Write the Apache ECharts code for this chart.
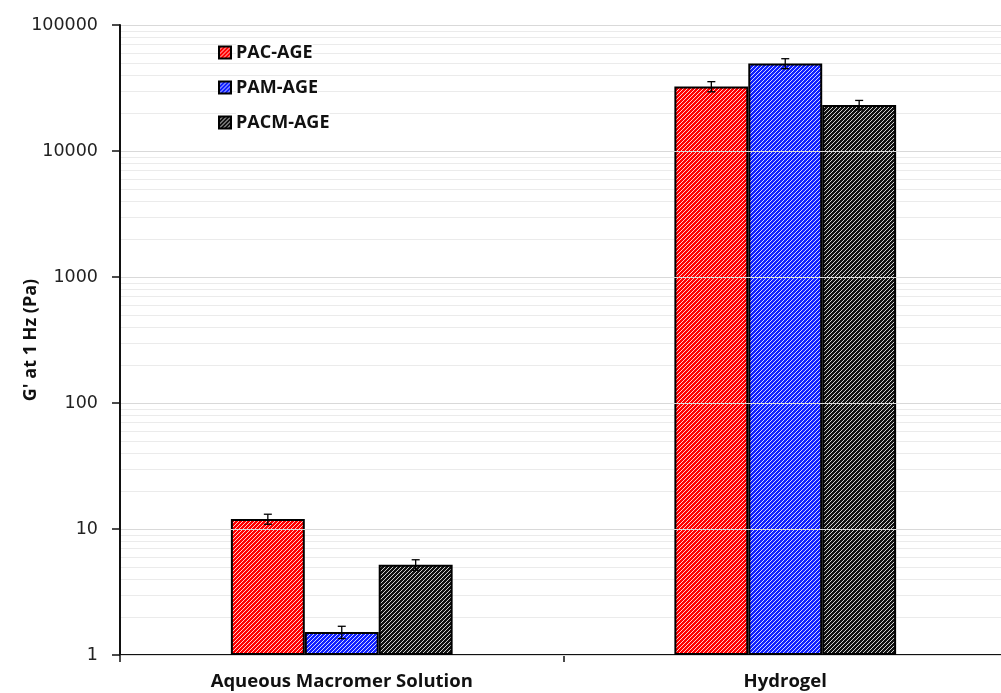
<!DOCTYPE html>
<html>
<head>
<meta charset="utf-8">
<script src="https://cdn.jsdelivr.net/npm/echarts@6/dist/echarts.min.js"></script>
<style>
  html, body { margin: 0; padding: 0; background: #fff; }
  #chart { width: 1001px; height: 693px; }
</style>
</head>
<body>
<div id="chart"></div>
<script>
// Storage modulus at 1 Hz for each macromer, before and after crosslinking
const categories = ['Aqueous Macromer Solution', 'Hydrogel'];
const seriesNames = ['PAC-AGE', 'PAM-AGE', 'PACM-AGE'];
const pacAge  = [12, 32500];
const pamAge  = [1.52, 49500];
const pacmAge = [5.2, 23200];
const pacAgeErr  = [1.1, 3000];
const pamAgeErr  = [0.17, 4500];
const pacmAgeErr = [0.5, 2000];
const majorTicks = [1, 10, 100, 1000, 10000, 100000];

const values = [pacAge, pamAge, pacmAge];
const errors = [pacAgeErr, pamAgeErr, pacmAgeErr];
const baseColors = ['#ff0000', '#1020ff', '#111111'];

// minor ticks at 2..9 within each decade
const minorTicks = [];
for (let d = 1; d < 100000; d *= 10) {
  for (let m = 2; m <= 9; m++) minorTicks.push(m * d);
}

// diagonal hatch fill: coloured ground with thin white stripes
function hatch(color) {
  const s = 4;
  const c = document.createElement('canvas');
  c.width = s; c.height = s;
  const g = c.getContext('2d');
  g.fillStyle = color;
  g.fillRect(0, 0, s, s);
  g.strokeStyle = 'rgba(255,255,255,0.9)';
  g.lineWidth = 0.9;
  g.beginPath();
  g.moveTo(-1, s + 1); g.lineTo(s + 1, -1);
  g.moveTo(-1, 1); g.lineTo(1, -1);
  g.moveTo(s - 1, s + 1); g.lineTo(s + 1, s - 1);
  g.stroke();
  return c;
}

const GAP = 0.5; // barCategoryGap fraction

const barSeries = seriesNames.map((name, i) => ({
  name: name,
  type: 'bar',
  data: values[i],
  barCategoryGap: '50%',
  barGap: '0%',
  itemStyle: {
    color: { image: hatch(baseColors[i]), repeat: 'repeat' },
    borderColor: '#000',
    borderWidth: 2
  },
  emphasis: { disabled: true },
  z: 3
}));

const errorSeries = seriesNames.map((name, i) => ({
  type: 'custom',
  name: name + ' error',
  z: 6,
  silent: true,
  data: values[i].map((v, k) => [k, v, errors[i][k]]),
  renderItem: function (params, api) {
    const k = api.value(0);
    const v = api.value(1);
    const e = api.value(2);
    const p0 = api.coord([0, 1]);
    const p1 = api.coord([1, 1]);
    const catW = Math.abs(p1[0] - p0[0]);
    const barW = catW * (1 - GAP) / 3;
    const cx = api.coord([k, v])[0] + (i - 1) * barW;
    const yHi = api.coord([k, v + e])[1];
    const yLo = api.coord([k, Math.max(v - e, 1e-6)])[1];
    const cap = 4;
    const style = { stroke: '#000', lineWidth: 1.3 };
    return {
      type: 'group',
      children: [
        { type: 'line', shape: { x1: cx, y1: yHi, x2: cx, y2: yLo }, style: style },
        { type: 'line', shape: { x1: cx - cap, y1: yHi, x2: cx + cap, y2: yHi }, style: style },
        { type: 'line', shape: { x1: cx - cap, y1: yLo, x2: cx + cap, y2: yLo }, style: style }
      ]
    };
  }
}));

const chart = echarts.init(document.getElementById('chart'), null, { renderer: 'canvas' });
chart.setOption({
  animation: false,
  backgroundColor: '#fff',
  grid: { left: 120, top: 25, width: 887, height: 630, containLabel: false, outerBoundsMode: 'none' },
  legend: {
    data: seriesNames,
    orient: 'vertical',
    left: 213,
    top: 37,
    padding: 5,
    z: 10,
    itemWidth: 12,
    itemHeight: 12,
    itemGap: 14,
    icon: 'rect',
    selectedMode: false,
    textStyle: {
      fontFamily: 'Open Sans', fontWeight: 'bold', fontSize: 18, color: '#111',
      backgroundColor: '#fff', lineHeight: 21
    }
  },
  xAxis: {
    type: 'category',
    data: categories,
    axisLine: { lineStyle: { color: '#111', width: 2 } },
    axisTick: { show: true, length: 7, lineStyle: { color: '#111', width: 1.5 } },
    axisLabel: { fontFamily: 'Open Sans', fontWeight: 'bold', fontSize: 18.5, color: '#111', margin: 17 }
  },
  yAxis: [
    {
      type: 'log',
      logBase: 10,
      min: 1,
      max: 100000,
      name: "G' at 1 Hz (Pa)",
      nameLocation: 'middle',
      nameGap: 80,
      nameMoveOverlap: false,
      nameTextStyle: { fontFamily: 'Open Sans', fontWeight: 'bold', fontSize: 18, color: '#111' },
      axisLine: { show: true, lineStyle: { color: '#111', width: 2 } },
      axisTick: { show: true, length: 8, lineStyle: { color: '#111', width: 1.5 } },
      axisLabel: {
        fontFamily: 'DejaVu Sans', fontSize: 17.5, color: '#222', margin: 22,
        customValues: majorTicks,
        formatter: v => String(Math.round(v))
      },
      splitLine: { show: true, lineStyle: { color: '#d9d9d9', width: 1 } },
      z: 4
    },
    {
      type: 'log',
      logBase: 10,
      min: 1,
      max: 100000,
      position: 'left',
      axisLine: { show: false },
      axisLabel: { show: false },
      axisTick: { show: true, inside: true, length: 5, customValues: minorTicks, lineStyle: { color: '#111', width: 1 } },
      splitLine: { show: false }
    }
  ],
  series: barSeries.concat(errorSeries).concat([{
    type: 'line',
    yAxisIndex: 1,
    data: [],
    silent: true,
    z: 1,
    markLine: {
      silent: true,
      z: 1,
      symbol: 'none',
      label: { show: false },
      lineStyle: { color: '#ebebeb', width: 1, type: 'solid' },
      data: minorTicks.map(v => ({ yAxis: v }))
    }
  }])
});
</script>
</body>
</html>
